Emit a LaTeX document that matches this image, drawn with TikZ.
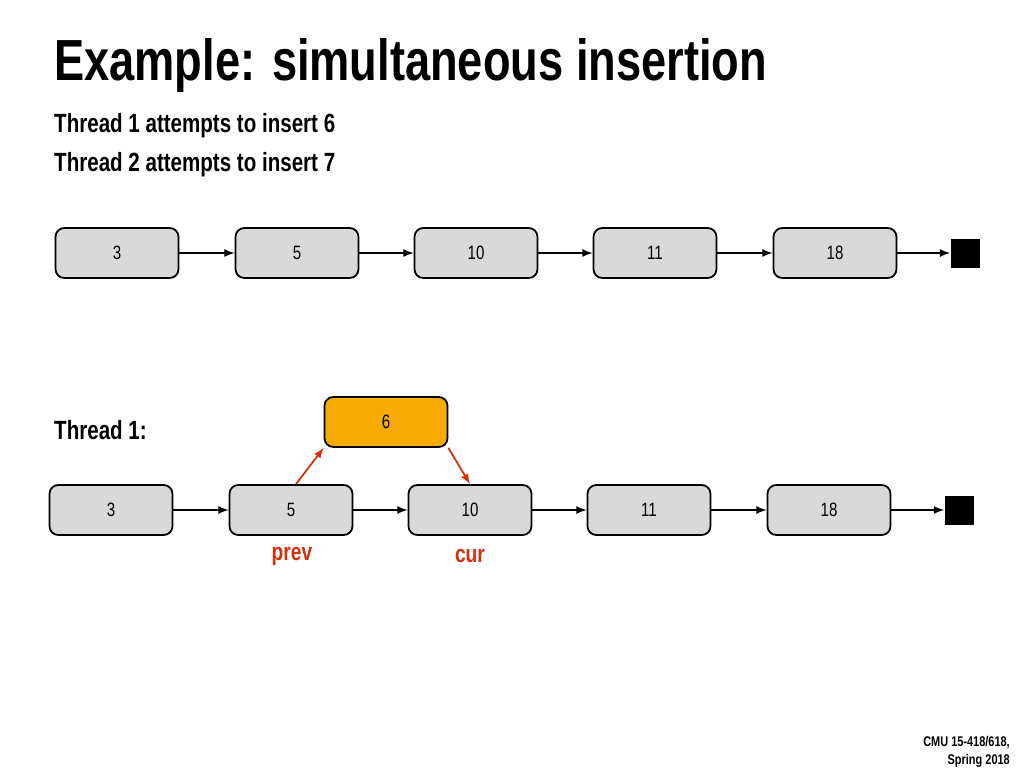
\documentclass[tikz,border=0pt]{standalone}
\usepackage{fontspec}
\setmainfont[FakeStretch=0.78]{Liberation Sans}
\usepackage{tikz}
\definecolor{boxgray}{RGB}{217,217,217}
\definecolor{hiorange}{RGB}{247,170,0}
\definecolor{ptrred}{RGB}{210,50,10}
\begin{document}
\begin{tikzpicture}[x=0.02cm,y=-0.02cm,
                    item/.style={rectangle,rounded corners=5pt,draw=black,line width=1pt,fill=boxgray,minimum width=2.46cm,minimum height=1cm,font=\fontsize{11}{13}\selectfont},
                    nil/.style={rectangle,fill=black,minimum size=0.58cm,inner sep=0},
                    link/.style={-latex,line width=1pt},
                    ptr/.style={-latex,line width=1pt,draw=ptrred},
                    ptrlabel/.style={text=ptrred,font=\bfseries\fontsize{14}{16}\selectfont}
                ]
    \useasboundingbox (0,0) rectangle (1024,768);
    \node[anchor=base west,font=\bfseries\fontsize{33}{36}\selectfont] (title) at (48,80) {Example: simultaneous insertion};
    \node[anchor=base west,font=\bfseries\fontsize{15}{18}\selectfont] (sub1) at (48,132) {Thread 1 attempts to insert 6};
    \node[anchor=base west,font=\bfseries\fontsize{15}{18}\selectfont] (sub2) at (48,171) {Thread 2 attempts to insert 7};

    % original list
    \foreach \v/\x in {3/117,5/297,10/476,11/655,18/835}
        {
        \node[item] (a\v) at (\x,253) {\v};
    }
    \node[nil] (anil) at (965,253) {};
    \foreach \p/\q in {a3/a5,a5/a10,a10/a11,a11/a18,a18/anil}
        \draw[link] (\p) -- (\q);

    % thread 1
    \node[anchor=base west,font=\bfseries\fontsize{15}{18}\selectfont] (t1) at (48,439) {Thread 1:};
    \foreach \v/\x in {3/111,5/291,10/470,11/649,18/829}
        {
        \node[item] (b\v) at (\x,510) {\v};
    }
    \node[nil] (bnil) at (959,510) {};
    \foreach \p/\q in {b3/b5,b5/b10,b10/b11,b11/b18,b18/bnil}
        \draw[link] (\p) -- (\q);
    \node[item,fill=hiorange] (b6) at (386,422) {6};
    \draw[ptr] (b5.north) ++(5,0) coordinate (pfrom) -- (b6.south west);
    \draw[ptr] (b6.south east) -- (b10.north);
    \node[ptrlabel] (prev) at (292,556) {prev};
    \node[ptrlabel] (cur) at (470,556) {cur};

    \node[anchor=east,align=right,font=\bfseries\fontsize{8}{10}\selectfont] (foot) at (1016,752) {CMU 15-418/618,\\Spring 2018};
\end{tikzpicture}
\end{document}
